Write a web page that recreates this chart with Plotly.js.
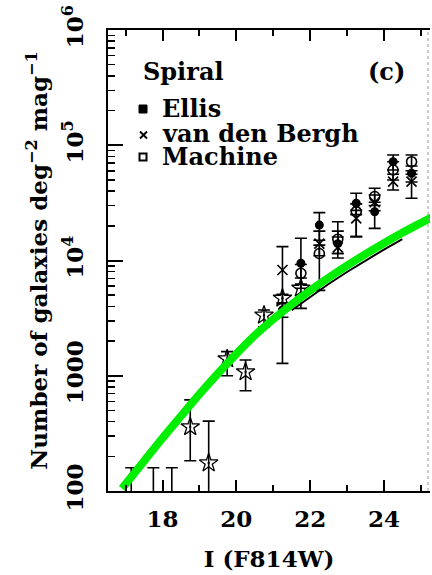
<!DOCTYPE html>
<html><head><meta charset="utf-8">
<script src="https://cdn.plot.ly/plotly-3.0.1.min.js"></script>
<style>html,body{margin:0;padding:0;background:#fff;}</style>
</head><body><div id="chart" style="width:432px;height:575px;"></div>
<script>
// ---- data ----
// bright-end counts (star symbols)
const starMag   = [18.75, 19.25, 19.75, 20.25, 20.75, 21.25, 21.75];
const starN     = [360, 175, 1400, 1080, 3350, 4700, 5740];
const starErrUp = [257, 229, 220, 290, 370, 400, 1300];
const starErrDn = [177, 170, 400, 340, 690, 400, 1900];

// upper limits (bars only)
const limMag   = [17.15, 17.75, 18.25];
const limN     = [60, 60, 60];
const limErrUp = [99, 99, 99];

// Ellis (filled circles)
const ellisMag   = [21.25, 21.75, 22.25, 22.75, 23.25, 23.75, 24.25, 24.75];
const ellisN     = [3720, 9460, 20300, 14000, 31400, 26500, 72000, 57100];
const ellisErrUp = [500, 6140, 5700, 4000, 6900, 5500, 10300, 8900];
const ellisErrDn = [500, 3720, 5300, 2500, 6400, 7500, 11000, 9100];

// van den Bergh (crosses)
const vdbMag   = [21.25, 22.25, 22.75, 23.25, 23.75, 24.25, 24.75];
const vdbN     = [8280, 14000, 13000, 23200, 32000, 48300, 48300];
const vdbErrUp = [4920, 4000, 3000, 4000, 5000, 7700, 7700];
const vdbErrDn = [7000, 3000, 2500, 7100, 5000, 7400, 13600];

// Machine (open circles)
const machMag   = [21.75, 22.25, 22.75, 23.25, 23.75, 24.25, 24.75];
const machN     = [7740, 11500, 15300, 26500, 35900, 61000, 72000];
const machErrUp = [1500, 2100, 6400, 4500, 6400, 11000, 10300];
const machErrDn = [1500, 6000, 3800, 10400, 5900, 11000, 12000];

// model curves
const modelMag  = [16.9, 17.5, 18.0, 18.5, 19.0, 19.5, 20.0, 20.5, 21.0, 21.5, 22.0, 22.5, 23.0, 23.5, 24.0, 24.5, 25.0, 25.3];
const modelN    = [105, 182, 288, 447, 692, 1047, 1549, 2239, 3090, 4169, 5495, 7079, 9016, 11350, 14125, 17380, 21135, 23710];
const model2Mag = [21.5, 22.0, 22.5, 23.0, 23.5, 24.0, 24.5];
const model2N   = [3700, 4850, 6250, 7950, 10000, 12450, 15300];

// axis ticks
const xTickVals  = [18, 20, 22, 24];
const xMinorVals = [17, 19, 21, 23, 25];
const yTickVals  = [100, 1000, 1e4, 1e5, 1e6];
const yTickText  = ['100', '1000', '10<sup>4</sup>', '10<sup>5</sup>', '10<sup>6</sup>'];
const yMinorVals = [];
[100, 1000, 1e4, 1e5].forEach(d => { for (let k = 2; k <= 9; k++) yMinorVals.push(d * k); });

// ---- styling ----
const FONT = {family: 'DejaVu Serif', size: 23, color: '#000', weight: 'bold'};
const LFONT = {family: 'DejaVu Serif', size: 24, color: '#000', weight: 'bold'};
const errStyle = (up, dn) => ({type: 'data', symmetric: false, array: up, arrayminus: dn,
  color: '#000', thickness: 1.6, width: 6});

const traces = [
  {x: model2Mag, y: model2N, mode: 'lines', line: {color: '#000', width: 2}, hoverinfo: 'skip'},
  {x: limMag, y: limN, mode: 'markers', marker: {size: 1, opacity: 0},
   error_y: {type: 'data', symmetric: false, array: limErrUp, arrayminus: [0, 0, 0], color: '#000', thickness: 1.6, width: 6}},
  {x: starMag, y: starN, mode: 'markers',
   marker: {symbol: 'star-open-dot', size: 14, color: '#000', line: {color: '#000', width: 1.3}},
   error_y: errStyle(starErrUp, starErrDn)},
  {x: vdbMag, y: vdbN, mode: 'markers',
   marker: {symbol: 'x-thin', size: 10, color: '#000', line: {color: '#000', width: 1.6}},
   error_y: errStyle(vdbErrUp, vdbErrDn)},
  {x: machMag, y: machN, mode: 'markers',
   marker: {symbol: 'circle-open', size: 10, color: '#000', line: {color: '#000', width: 1.6}},
   error_y: errStyle(machErrUp, machErrDn)},
  {x: ellisMag, y: ellisN, mode: 'markers',
   marker: {symbol: 'circle', size: 9, color: '#000'},
   error_y: errStyle(ellisErrUp, ellisErrDn)},
  {x: modelMag, y: modelN, mode: 'lines', line: {color: '#00ee00', width: 8, shape: 'spline', smoothing: 0.8}, hoverinfo: 'skip'}
];

const px = v => (v - 108) / 322;   // pixel -> paper helpers for the legend box
const py = v => (491 - v) / 461;

const layout = {
  width: 432, height: 575,
  margin: {l: 108, r: 2, t: 30, b: 84},
  paper_bgcolor: '#fff', plot_bgcolor: '#fff',
  showlegend: false,
  font: FONT,
  xaxis: {
    range: [16.52, 25.25], tickmode: 'array', tickvals: xTickVals,
    ticks: 'inside', ticklen: 11, tickwidth: 2, tickcolor: '#000',
    minor: {tickmode: 'array', tickvals: xMinorVals, ticks: 'inside', ticklen: 6, tickwidth: 2, tickcolor: '#000'},
    showline: true, linewidth: 2, linecolor: '#000', mirror: 'ticks',
    showgrid: false, zeroline: false, tickfont: FONT, ticklabelstandoff: 6,
    title: {text: 'I (F814W)', font: FONT, standoff: 20}
  },
  yaxis: {
    type: 'log', range: [2, 6], tickmode: 'array', tickvals: yTickVals, ticktext: yTickText,
    tickangle: -90, ticks: 'inside', ticklen: 15, tickwidth: 2, tickcolor: '#000',
    minor: {tickmode: 'array', tickvals: yMinorVals, ticks: 'inside', ticklen: 7, tickwidth: 1.5, tickcolor: '#000'},
    showline: true, linewidth: 2, linecolor: '#000', mirror: false,
    showgrid: false, zeroline: false, tickfont: FONT, ticklabelstandoff: 14,
    title: {text: 'Number of galaxies deg<sup>−2</sup> mag<sup>−1</sup>', font: FONT, standoff: 4}
  },
  shapes: [
    {type: 'line', xref: 'paper', yref: 'paper', x0: 0.994, x1: 0.994, y0: 0, y1: 1,
     line: {color: '#999', width: 1, dash: 'dot'}},
    {type: 'rect', xref: 'paper', yref: 'paper', x0: px(139), x1: px(147), y0: py(113), y1: py(105),
     fillcolor: '#000', line: {color: '#000', width: 1}},
    {type: 'line', xref: 'paper', yref: 'paper', x0: px(140), x1: px(147), y0: py(138.5), y1: py(131.5),
     line: {color: '#000', width: 2}},
    {type: 'line', xref: 'paper', yref: 'paper', x0: px(140), x1: px(147), y0: py(131.5), y1: py(138.5),
     line: {color: '#000', width: 2}},
    {type: 'rect', xref: 'paper', yref: 'paper', x0: px(139.5), x1: px(146.5), y0: py(160.5), y1: py(153.5),
     fillcolor: 'rgba(0,0,0,0)', line: {color: '#000', width: 2}}
  ],
  annotations: [
    {text: 'Spiral', xref: 'paper', yref: 'paper', x: px(141), y: py(71.5), xanchor: 'left', yanchor: 'middle', showarrow: false, font: LFONT},
    {text: '(c)', xref: 'paper', yref: 'paper', x: px(366), y: py(71.5), xanchor: 'left', yanchor: 'middle', showarrow: false, font: LFONT},
    {text: 'Ellis', xref: 'paper', yref: 'paper', x: px(160), y: py(108.5), xanchor: 'left', yanchor: 'middle', showarrow: false, font: LFONT},
    {text: 'van den Bergh', xref: 'paper', yref: 'paper', x: px(160), y: py(133), xanchor: 'left', yanchor: 'middle', showarrow: false, font: LFONT},
    {text: 'Machine', xref: 'paper', yref: 'paper', x: px(160), y: py(156.5), xanchor: 'left', yanchor: 'middle', showarrow: false, font: LFONT}
  ]
};

Plotly.newPlot('chart', traces, layout, {displayModeBar: false, staticPlot: true});
</script>
</body></html>
